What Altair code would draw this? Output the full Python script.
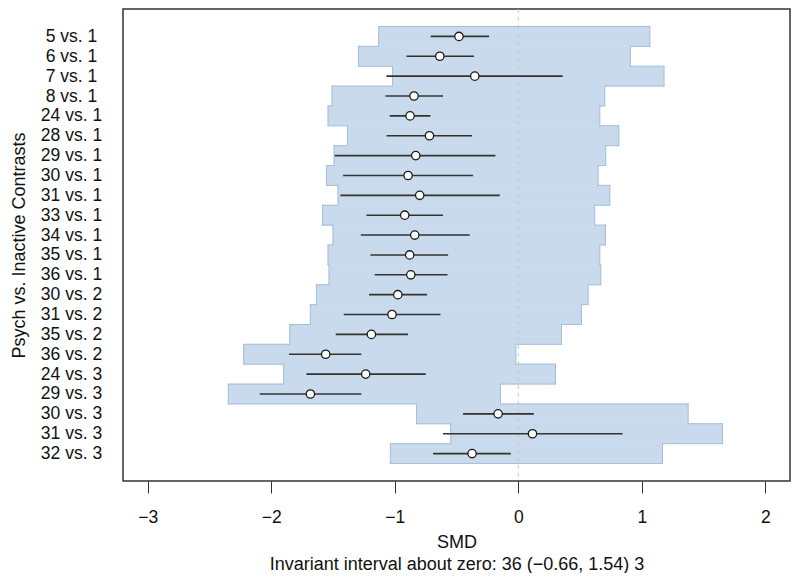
import altair as alt
import pandas as pd

contrasts = ["5 vs. 1", "6 vs. 1", "7 vs. 1", "8 vs. 1", "24 vs. 1", "28 vs. 1",
             "29 vs. 1", "30 vs. 1", "31 vs. 1", "33 vs. 1", "34 vs. 1", "35 vs. 1",
             "36 vs. 1", "30 vs. 2", "31 vs. 2", "35 vs. 2", "36 vs. 2", "24 vs. 3",
             "29 vs. 3", "30 vs. 3", "31 vs. 3", "32 vs. 3"]
smd = [-0.48, -0.635, -0.352, -0.844, -0.876, -0.719, -0.83, -0.892, -0.798, -0.919, -0.838,
       -0.879, -0.870, -0.975, -1.022, -1.189, -1.559, -1.235, -1.683, -0.163, 0.115, -0.374]
ci_low = [-0.709, -0.905, -1.067, -1.075, -1.04, -1.067, -1.486, -1.418, -1.44, -1.229, -1.275,
          -1.197, -1.162, -1.208, -1.413, -1.478, -1.856, -1.715, -2.093, -0.447, -0.609, -0.69]
ci_high = [-0.236, -0.358, 0.36, -0.609, -0.711, -0.374, -0.185, -0.366, -0.15, -0.609, -0.393,
           -0.568, -0.573, -0.738, -0.63, -0.892, -1.27, -0.749, -1.27, 0.126, 0.844, -0.061]
band_low = [-1.13, -1.294, -1.018, -1.508, -1.54, -1.383, -1.491, -1.553, -1.459, -1.585, -1.5,
            -1.54, -1.532, -1.634, -1.683, -1.85, -2.223, -1.899, -2.347, -0.824, -0.547, -1.035]
band_high = [1.065, 0.908, 1.18, 0.70, 0.66, 0.814, 0.708, 0.646, 0.741, 0.619, 0.706,
             0.66, 0.668, 0.565, 0.512, 0.35, -0.02, 0.301, -0.144, 1.375, 1.653, 1.168]
x_ticks = [-3, -2, -1, 0, 1, 2]
x_title = ["SMD", "Invariant interval about zero: 36 (\u22120.66, 1.54) 3"]
y_title = "Psych vs. Inactive Contrasts"

rows = list(range(1, len(contrasts) + 1))
pts = pd.DataFrame({"row": rows, "contrast": contrasts, "smd": smd, "lo": ci_low, "hi": ci_high,
                    "bl": band_low, "bh": band_high})
pts["y0"] = pts["row"] - 0.5
pts["y1"] = pts["row"] + 0.5

# horizontal pieces of the band outline (top edge, steps between rows, bottom edge)
edges = [{"y": rows[0] - 0.5, "xa": band_low[0], "xb": band_high[0]}]
for i in range(len(rows) - 1):
    edges.append({"y": rows[i] + 0.5, "xa": band_low[i], "xb": band_low[i + 1]})
    edges.append({"y": rows[i] + 0.5, "xa": band_high[i], "xb": band_high[i + 1]})
edges.append({"y": rows[-1] + 0.5, "xa": band_low[-1], "xb": band_high[-1]})
edges = pd.DataFrame(edges)
zero = pd.DataFrame({"z": [0]})

FONT = "Liberation Sans"
FILL = "#c9daec"
EDGE = "#a6bedb"
xscale = alt.Scale(domain=[-3.2, 2.2], nice=False, zero=False)
yscale = alt.Scale(domain=[-0.38, 23.38], nice=False, zero=False, reverse=True)
label_expr = "[" + ",".join("'%s'" % c for c in contrasts) + "][datum.value - 1]"

x_axis = alt.Axis(values=x_ticks, grid=False, domain=False, ticks=True, tickSize=12,
                  tickColor="#333333", tickWidth=1, labelPadding=24, labelBaseline="middle",
                  labelFontSize=17.5, labelColor="#111111", labelFont=FONT, labelFlush=False,
                  title=x_title, titleFontSize=18, titleFontWeight="normal", titleFont=FONT,
                  titleColor="#111111", titleY=66, titleBaseline="alphabetic", titleLineHeight=22)
y_axis = alt.Axis(values=rows, labelExpr=label_expr, grid=False, domain=False, ticks=False,
                  tickSize=0, labelAlign="center", labelBaseline="middle", labelPadding=52,
                  labelFontSize=17.5, labelColor="#111111", labelFont=FONT, labelOverlap=False,
                  labelFlush=False,
                  title=y_title, titleFontSize=18, titleFontWeight="normal", titleFont=FONT,
                  titleColor="#111111", titleX=-99, titleY=236, titleAngle=270,
                  titleAlign="center", titleBaseline="alphabetic")


def X(field):
    return alt.X(field, scale=xscale, axis=x_axis)


def Y(field):
    return alt.Y(field, scale=yscale, axis=y_axis)


fill = alt.Chart(pts).mark_rect(fill=FILL, stroke=FILL, strokeWidth=0.6, opacity=1).encode(
    x=X("bl:Q"), x2="bh:Q", y=Y("y0:Q"), y2="y1:Q"
)

zline = alt.Chart(zero).mark_rule(color="#c4c4c4", strokeDash=[4, 4], strokeWidth=1).encode(
    x=X("z:Q")
)

left_edge = alt.Chart(pts).mark_rule(color=EDGE, strokeWidth=1, strokeCap="square").encode(
    x=X("bl:Q"), y=Y("y0:Q"), y2="y1:Q"
)
right_edge = alt.Chart(pts).mark_rule(color=EDGE, strokeWidth=1, strokeCap="square").encode(
    x=X("bh:Q"), y=Y("y0:Q"), y2="y1:Q"
)
steps = alt.Chart(edges).mark_rule(color=EDGE, strokeWidth=1, strokeCap="square").encode(
    x=X("xa:Q"), x2="xb:Q", y=Y("y:Q")
)

ci = alt.Chart(pts).mark_rule(color="#333333", strokeWidth=1.6).encode(
    y=Y("row:Q"), x=X("lo:Q"), x2="hi:Q"
)

dots = alt.Chart(pts).mark_circle(
    size=70, fill="white", stroke="#1a1a1a", strokeWidth=1.3, opacity=1
).encode(
    y=Y("row:Q"), x=X("smd:Q")
)

chart = alt.layer(fill, zline, left_edge, right_edge, steps, ci, dots).properties(
    width=667, height=472,
    autosize=alt.AutoSizeParams(type="none"),
    padding={"left": 115, "top": 1, "right": 2, "bottom": 92},
).configure_view(stroke="#333333", strokeWidth=1.5)

chart.save("out.html", embed_options={"renderer": "svg", "actions": False})
